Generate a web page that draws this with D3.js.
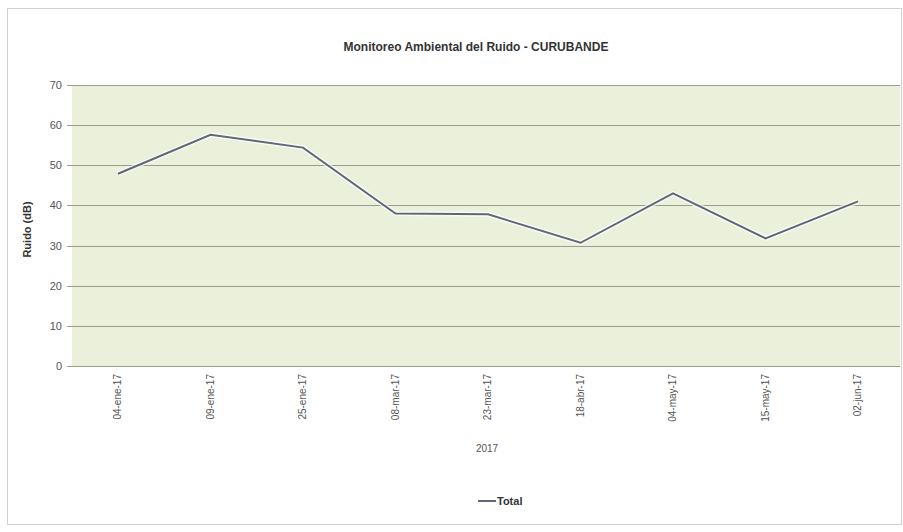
<!DOCTYPE html>
<html lang="es">
<head>
<meta charset="UTF-8">
<title>Monitoreo Ambiental del Ruido - CURUBANDE</title>
<script src="https://d3js.org/d3.v7.min.js"></script>
<style>
  body { margin: 0; background: #fff; }
  svg text { font-family: "Liberation Sans Narrow", "Liberation Sans", Arial, sans-serif; fill: #333; }
  .grid line { stroke: #9a9a8e; stroke-width: 1; }
  .xlab { font-size: 10px; fill: #555; }
  .ylab { font-size: 11px; fill: #555; }
</style>
</head>
<body>
<div id="chart"></div>
<script>
// data
const fechas = ["04-ene-17", "09-ene-17", "25-ene-17", "08-mar-17", "23-mar-17",
                "18-abr-17", "04-may-17", "15-may-17", "02-jun-17"];
const ruido = [47.9, 57.6, 54.4, 38.0, 37.8, 30.7, 43.0, 31.8, 41.0];
const yTicks = [0, 10, 20, 30, 40, 50, 60, 70];
const anio = "2017";

const W = 903, H = 532;
const plot = { left: 72, right: 900, top: 85, bottom: 366 };

const svg = d3.select("#chart").append("svg")
  .attr("width", W).attr("height", H);

// outer chart border
svg.append("rect")
  .attr("x", 7.5).attr("y", 8.5)
  .attr("width", 894).attr("height", 516)
  .attr("fill", "#fff").attr("stroke", "#d0d0d0");

// category centres sit a little right of an even split, as in the original
const x = d3.scalePoint()
  .domain(fechas)
  .range([plot.left + 46, plot.right - 42]);

const y = d3.scaleLinear()
  .domain([0, 70])
  .range([plot.bottom, plot.top]);

// plot background
svg.append("rect")
  .attr("x", plot.left).attr("y", plot.top)
  .attr("width", plot.right - plot.left)
  .attr("height", plot.bottom - plot.top)
  .attr("fill", "#eaf0da");

// gridlines + y ticks
svg.append("g").attr("class", "grid")
  .selectAll("line")
  .data(yTicks)
  .join("line")
  .attr("x1", plot.left - 5).attr("x2", plot.right)
  .attr("y1", d => Math.round(y(d)) + 0.5)
  .attr("y2", d => Math.round(y(d)) + 0.5);

svg.append("g")
  .selectAll("text")
  .data(yTicks)
  .join("text")
  .attr("class", "ylab")
  .attr("x", plot.left - 10)
  .attr("y", d => y(d) + 4)
  .attr("text-anchor", "end")
  .text(d => d);

// x category labels (rotated)
svg.append("g")
  .selectAll("text")
  .data(fechas)
  .join("text")
  .attr("class", "xlab")
  .attr("transform", d => `translate(${x(d) + 3},${plot.bottom + 8}) rotate(-90)`)
  .attr("text-anchor", "end")
  .text(d => d);

// year label
svg.append("text")
  .attr("x", 487)
  .attr("y", 452)
  .attr("text-anchor", "middle")
  .attr("font-size", 10)
  .style("fill", "#555")
  .text(anio);

// line
const line = d3.line()
  .x((d, i) => x(fechas[i]))
  .y(d => y(d));

svg.append("path")
  .datum(ruido)
  .attr("fill", "none")
  .attr("stroke", "#ffffff")
  .attr("stroke-opacity", 0.7)
  .attr("stroke-width", 5)
  .attr("stroke-linejoin", "round")
  .attr("d", line);

svg.append("path")
  .datum(ruido)
  .attr("fill", "none")
  .attr("stroke", "#5e6876")
  .attr("stroke-width", 2)
  .attr("d", line);

// title
svg.append("text")
  .attr("x", 476).attr("y", 51)
  .attr("text-anchor", "middle")
  .attr("font-size", 12)
  .attr("font-weight", "bold")
  .text("Monitoreo Ambiental del Ruido - CURUBANDE");

// y axis title
svg.append("text")
  .attr("transform", `translate(31,${(plot.top + plot.bottom) / 2 + 4}) rotate(-90)`)
  .attr("text-anchor", "middle")
  .attr("font-size", 11)
  .attr("font-weight", "bold")
  .text("Ruido (dB)");

// legend
const lg = svg.append("g").attr("transform", "translate(478,505)");
lg.append("line")
  .attr("x1", 0).attr("x2", 18)
  .attr("y1", -4).attr("y2", -4)
  .attr("stroke", "#5e6876").attr("stroke-width", 2);
lg.append("text")
  .attr("x", 19).attr("y", 0)
  .attr("font-size", 11)
  .attr("font-weight", "bold")
  .text("Total");
</script>
</body>
</html>
